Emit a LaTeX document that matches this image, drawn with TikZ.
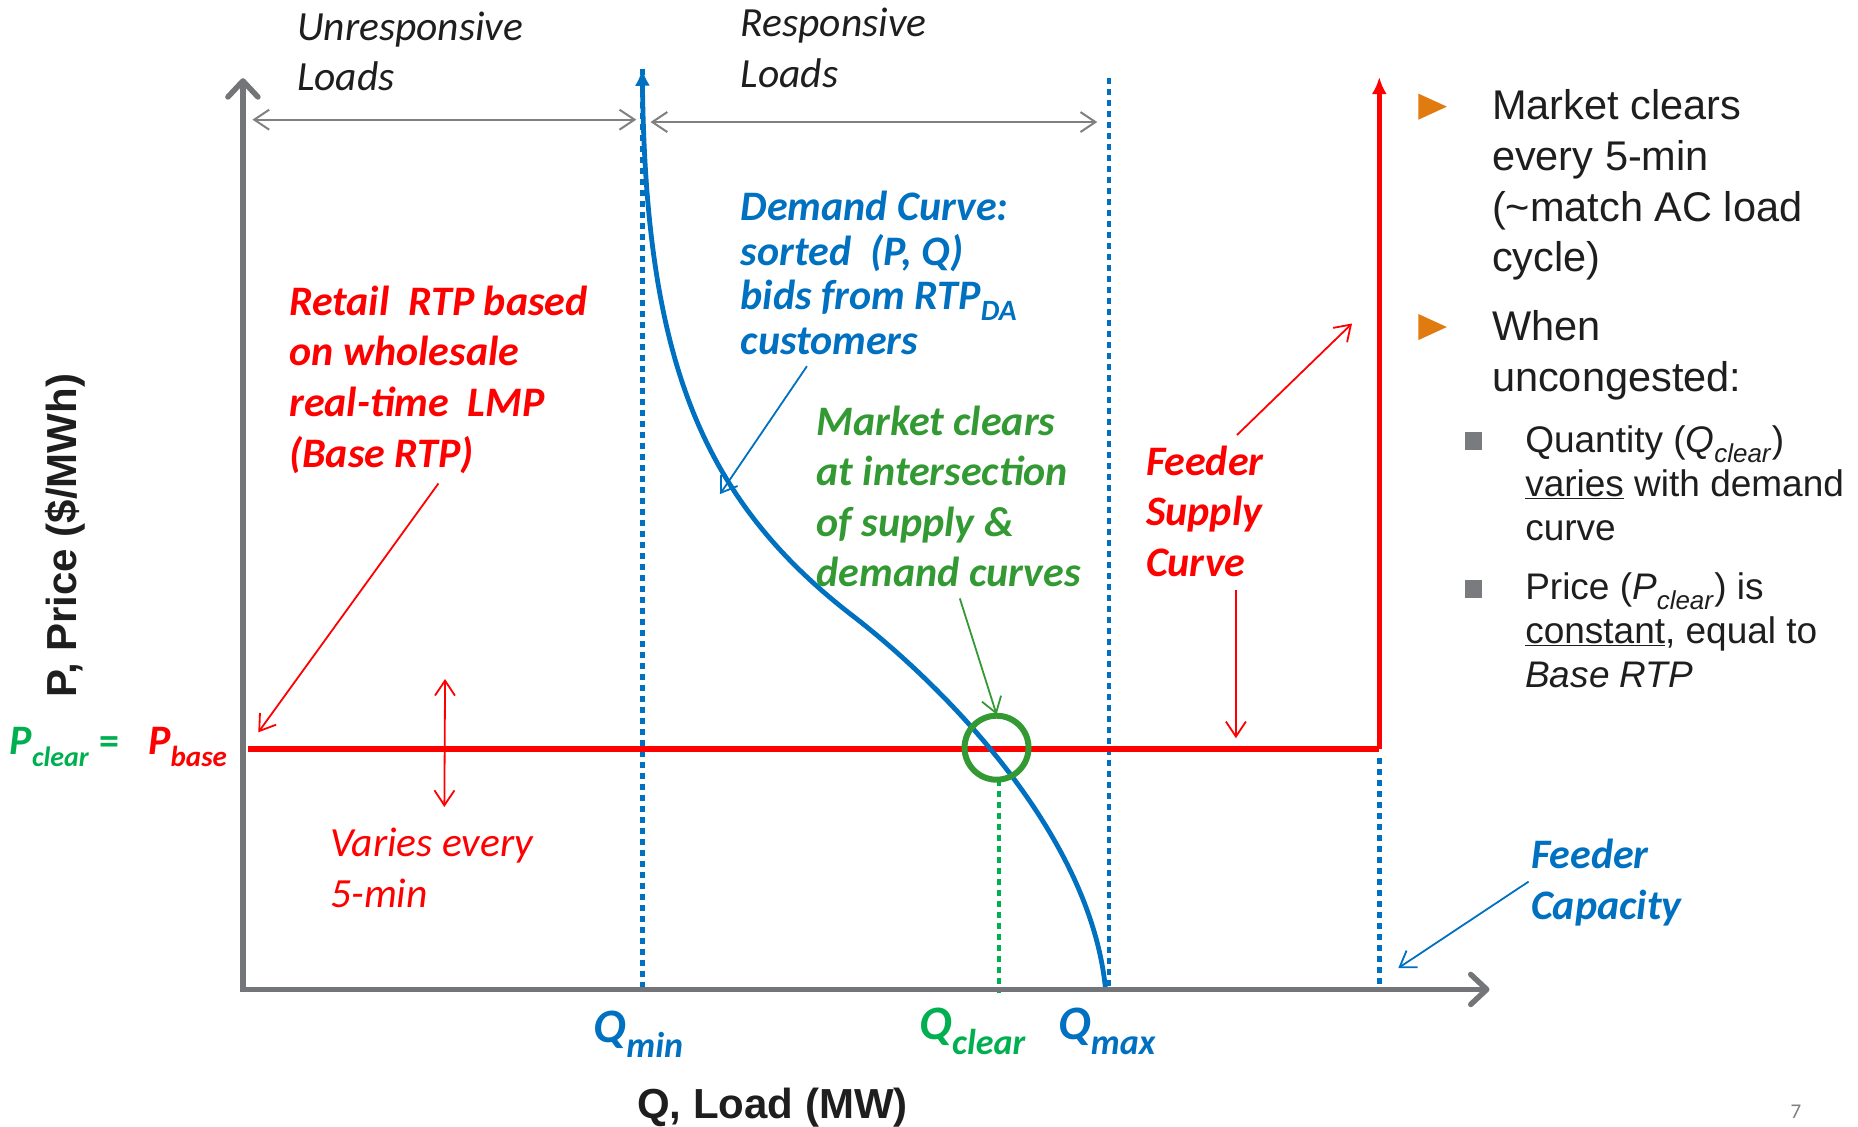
\documentclass[tikz,border=0pt]{standalone}
\usepackage{fontspec}
\setmainfont{Liberation Sans}
\newfontfamily\calfont{Carlito}
\usetikzlibrary{arrows.meta}
\definecolor{cred}{HTML}{FF0000}
\definecolor{cblue}{HTML}{0070C0}
\definecolor{cgreen}{HTML}{339933}
\definecolor{cbgreen}{HTML}{00B050}
\definecolor{caxis}{HTML}{747578}
\definecolor{cgray}{HTML}{808080}
\definecolor{corange}{HTML}{E07B10}
\definecolor{cbullet}{HTML}{7A7B7E}
\definecolor{ctext}{HTML}{1E1E1E}
\newcommand\topline[1]{\rule{0pt}{0.8em}#1}
\begin{document}
\begin{tikzpicture}[x=1.185pt,y=-1.185pt,
  every node/.style={inner sep=0pt},
  blk/.style={anchor=north west, align=left},
  cbi/.style={font=\calfont\bfseries\itshape\fontsize{42}{50.6}\selectfont},
  cbidem/.style={font=\calfont\bfseries\itshape\fontsize{42}{44.7}\selectfont},
  cit/.style={font=\calfont\itshape\fontsize{41.5}{50.4}\selectfont},
  armain/.style={font=\fontsize{41.5}{50.7}\selectfont, text=ctext},
  arsub/.style={font=\fontsize{37}{44}\selectfont, text=ctext},
  axisline/.style={caxis, line width=5.5pt, line join=miter},
  vdots/.style={line width=4.5pt, dash pattern=on 6pt off 5pt},
  thinline/.style={line width=1.8pt},
  openhead/.style={-{Straight Barb[length=15pt,width=20pt]}},
  bothheads/.style={{Straight Barb[length=15pt,width=20pt]}-{Straight Barb[length=15pt,width=20pt]}},
  filledhead/.style={-{Latex[length=17pt,width=15pt]}},
]
\path[use as bounding box] (0,0) rectangle (1568,951);
\fill[white] (0,0) rectangle (1568,951);

% key coordinates
\coordinate (O) at (205,835);
\coordinate (ytip) at (205,66);
\coordinate (xtip) at (1257,835);
\coordinate (qmintop) at (542,58);
\coordinate (qminbot) at (542,835);
\coordinate (qmaxtop) at (936,66);
\coordinate (qmaxbot) at (936,835);
\coordinate (capbot) at (1164,835);
\coordinate (capstart) at (1164,640);
\coordinate (corner) at (1164,632);
\coordinate (suptop) at (1164,65);
\coordinate (pleft) at (209,632);
\coordinate (clear) at (841,631);
\coordinate (qclrtop) at (843,658);
\coordinate (qclrbot) at (843,838);
\coordinate (demend) at (933,835);

% dotted verticals
\draw[cblue, vdots] (qmintop) -- (qminbot);
\draw[cblue, vdots] (qmaxtop) -- (qmaxbot);
\draw[cblue, vdots] (capstart) -- (capbot);
\draw[cbgreen, vdots] (qclrtop) -- (qclrbot);

% supply curve
\draw[cred, line width=5.5pt] (pleft) -- (corner);
\draw[cred, line width=4.5pt, filledhead] (corner) -- (suptop);

% demand curve
\draw[cblue, line width=4.8pt, {Latex[length=17pt,width=15pt]}-] (qmintop) .. controls (545,300) and (590,420) .. (720,520) .. controls (790,574) and (920,700) .. (demend);

% clearing circle
\draw[cgreen, line width=6pt] (clear) circle[radius=27];

% axes
\draw[axisline, {Straight Barb[length=16pt,width=30pt,round]}-{Straight Barb[length=16pt,width=30pt,round]}] (ytip) -- (O) -- (xtip);

% top range arrows
\coordinate (ua) at (213,101);
\coordinate (ub) at (537,101);
\coordinate (ra) at (549,103);
\coordinate (rb) at (926,103);
\draw[cgray, line width=2pt, bothheads] (ua) -- (ub);
\draw[cgray, line width=2pt, bothheads] (ra) -- (rb);

\node[blk, cit, text=ctext] (unresp) at (250.5,6) {\topline{Unresponsive}\\Loads};
\node[blk, cit, text=ctext] (resp) at (625,3) {\topline{Responsive}\\Loads};

% demand text
\node[blk, cbidem, text=cblue] (dem) at (625,157.6) {\topline{Demand Curve:}\\sorted\hspace{0.45em}(P, Q)\\bids from RTP\textsubscript{DA}\\customers};
\coordinate (demfrom) at (681,309);
\coordinate (demto) at (607.6,417);
\draw[cblue, thinline, openhead] (demfrom) -- (demto);

% retail text
\node[blk, cbi, text=cred] (retail) at (244,237.6) {\topline{Retail\hspace{0.45em}RTP based}\\on wholesale\\real-time\hspace{0.45em}LMP\\(Base RTP)};
\coordinate (retfrom) at (370,408);
\coordinate (retto) at (218,618);
\draw[cred, thinline, openhead] (retfrom) -- (retto);

% market clears text
\node[blk, cbi, text=cgreen] (mkt) at (689,338.6) {\topline{Market clears}\\at intersection\\of supply \&\\demand curves};
\coordinate (mktfrom) at (810,505);
\coordinate (mktto) at (841,603);
\draw[cgreen, thinline, openhead] (mktfrom) -- (mktto);

% feeder supply curve
\node[blk, cbi, text=cred] (feed) at (967,372.6) {\topline{Feeder}\\Supply\\Curve};
\coordinate (fupfrom) at (1044,367);
\coordinate (fupto) at (1141,273);
\coordinate (fdnfrom) at (1043,498);
\coordinate (fdnto) at (1043,623);
\draw[cred, thinline, openhead] (fupfrom) -- (fupto);
\draw[cred, thinline, openhead] (fdnfrom) -- (fdnto);

% varies
\node[blk, cit, text=cred] (varies) at (278.6,695) {\topline{Varies every}\\5-min};
\coordinate (vtop) at (375.6,573);
\coordinate (vbot) at (375,681);
\draw[cred, thinline, bothheads] (vtop) -- (vbot);

% feeder capacity
\node[blk, cbi, text=cblue] (fcap) at (1292,704.6) {\topline{Feeder}\\Capacity};
\coordinate (fcfrom) at (1290,744);
\coordinate (fcto) at (1180,817);
\draw[cblue, thinline, openhead] (fcfrom) -- (fcto);

% P labels
\node[anchor=base west, font=\calfont\bfseries\itshape, text=cbgreen] (pclear) at (8,637) {\fontsize{42}{42}\selectfont P\raisebox{-12pt}{\fontsize{28}{28}\selectfont clear}};
\node[anchor=base west, font=\calfont\bfseries\fontsize{40}{40}\selectfont, text=cbgreen] (eq) at (84,637) {=};
\node[anchor=base west, font=\calfont\bfseries\itshape, text=cred] (pbase) at (125,637) {\fontsize{42}{42}\selectfont P\raisebox{-12pt}{\fontsize{29}{29}\selectfont base}};

% Q labels
\node[anchor=base west, font=\calfont\bfseries\itshape, text=cblue] (qmin) at (501,880) {\fontsize{48}{48}\selectfont Q\raisebox{-15pt}{\fontsize{36}{36}\selectfont min}};
\node[anchor=base west, font=\calfont\bfseries\itshape, text=cbgreen] (qclr) at (776,877) {\fontsize{48}{48}\selectfont Q\raisebox{-15pt}{\fontsize{36}{36}\selectfont clear}};
\node[anchor=base west, font=\calfont\bfseries\itshape, text=cblue] (qmax) at (893,877) {\fontsize{48}{48}\selectfont Q\raisebox{-15pt}{\fontsize{36}{36}\selectfont max}};

% axis labels
\node[anchor=base, font=\bfseries\fontsize{42}{42}\selectfont, text=ctext] (xlabel) at (652,944) {Q, Load (MW)};
\node[rotate=90, font=\bfseries\fontsize{42}{42}\selectfont, text=ctext] (ylabel) at (55,452) {P, Price (\$/MWh)};

% right bullets
\fill[corange] (1197,79) -- (1221,90) -- (1197,101) -- cycle;
\fill[corange] (1197,265) -- (1221,276) -- (1197,287) -- cycle;
\fill[cbullet] (1236,364.5) rectangle (1251,380);
\fill[cbullet] (1236,489.5) rectangle (1251,505);
\node[blk, armain] (b1) at (1259,73) {\topline{Market clears}\\every 5-min\\(\textasciitilde match AC load\\cycle)};
\node[blk, armain] (b2) at (1259,259) {\topline{When}\\uncongested:};
\node[blk, arsub] (s1) at (1287,356.5) {\topline{Quantity (\textit{Q}\textsubscript{\textit{clear}})}\\\underline{varies} with demand\\curve};
\node[blk, arsub] (s2) at (1287,481) {\topline{Price (\textit{P}\textsubscript{\textit{clear}}) is}\\\underline{constant}, equal to\\\textit{Base RTP}};

% page number
\node[anchor=base west, font=\calfont\fontsize{21}{21}\selectfont, text=cgray] (pg) at (1511,944) {7};
\end{tikzpicture}
\end{document}
